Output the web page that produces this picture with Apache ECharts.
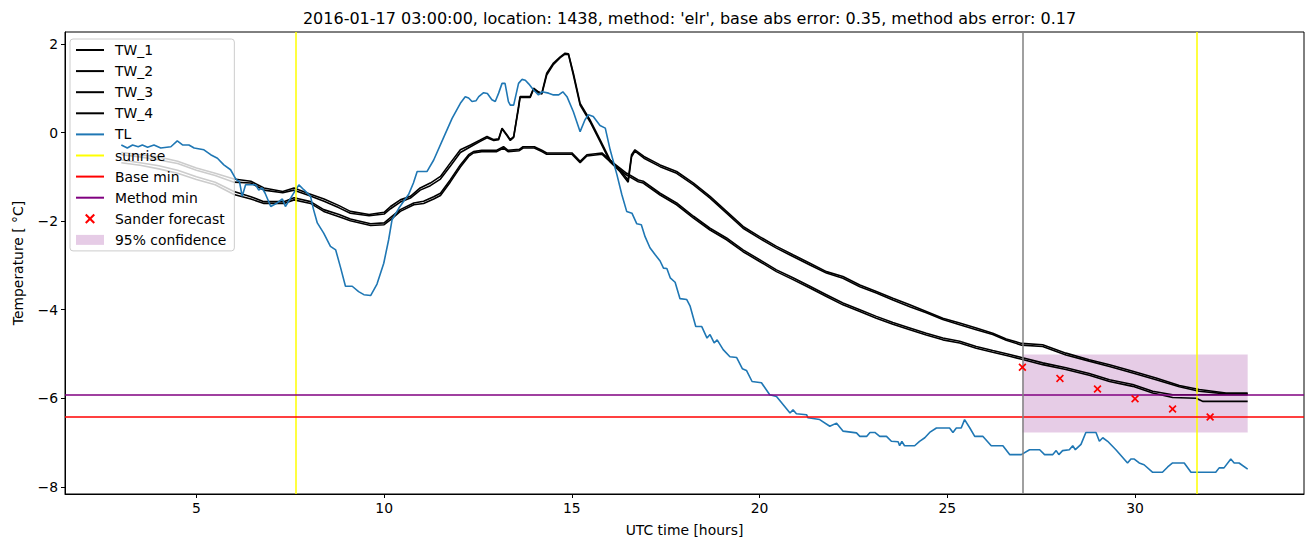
<!DOCTYPE html>
<html>
<head>
<meta charset="utf-8">
<script src="https://cdn.jsdelivr.net/npm/echarts@6/dist/echarts.min.js"></script>
<style>html,body{margin:0;padding:0;background:#fff}#main{width:1313px;height:547px}</style>
</head>
<body>
<div id="main"></div>
<script>
// ---------- data ----------
const titleText = "2016-01-17 03:00:00, location: 1438, method: 'elr', base abs error: 0.35, method abs error: 0.17";
const xTicks = [5, 10, 15, 20, 25, 30];
const yTicks = [-8, -6, -4, -2, 0, 2];

const sunriseHours = [7.64, 31.64];
const forecastHour = 27.0;
const baseMin = -6.41;
const methodMin = -5.92;
const confHours = [27.0, 33.0];
const confBounds = [-6.77, -5.01];

const sanderHours = [27, 28, 29, 30, 31, 32];
const sanderValues = [-5.30, -5.55, -5.79, -6.01, -6.24, -6.42];

const twAHours = [3.0,3.5,4.0,4.5,5.0,5.5,6.0,6.45,6.8,7.3,
  7.6,8.0,8.4,8.8,9.1,9.6,10.0,10.17,10.43,10.7,
  10.96,11.23,11.5,11.76,12.03,12.3,12.56,12.74,12.92,13.05,
  13.14,13.27,13.36,13.45,13.58,13.62,13.89,13.98,14.11,14.2,
  14.33,14.51,14.69,14.82,14.91,15.04,15.22,15.48,15.75,16.02,
  16.28,16.5,16.59,16.68,16.92,17.35,17.79,18.24,18.68,19.12,
  19.56,20.0,20.45,20.89,21.34,21.78,22.22,22.67,23.11,23.55,
  24.0,24.44,24.88,25.33,25.77,26.21,26.57,26.98,27.54,28.16,
  28.78,29.32,29.94,30.56,31.18,31.71,32.42,33.0];
const tw1Values = [-0.45,-0.50,-0.55,-0.65,-0.80,-0.92,-1.05,-1.10,-1.25,-1.33,
  -1.25,-1.38,-1.50,-1.65,-1.78,-1.85,-1.80,-1.67,-1.52,-1.44,
  -1.25,-1.14,-0.99,-0.69,-0.39,-0.28,-0.17,-0.09,-0.16,-0.14,
  0.10,-0.05,-0.16,-0.09,0.59,0.81,0.81,1.00,0.92,0.89,
  1.34,1.57,1.71,1.79,1.78,1.34,0.66,0.29,-0.16,-0.62,
  -0.84,-1.07,-0.50,-0.39,-0.54,-0.73,-0.88,-1.14,-1.44,-1.78,
  -2.12,-2.35,-2.57,-2.76,-2.95,-3.14,-3.25,-3.44,-3.59,-3.74,
  -3.89,-4.04,-4.19,-4.30,-4.41,-4.53,-4.66,-4.76,-4.79,-4.98,
  -5.13,-5.24,-5.39,-5.54,-5.71,-5.80,-5.88,-5.88];
const tw2Values = [-0.50,-0.55,-0.62,-0.70,-0.85,-0.97,-1.12,-1.14,-1.30,-1.36,
  -1.30,-1.42,-1.55,-1.70,-1.82,-1.88,-1.84,-1.72,-1.57,-1.48,
  -1.30,-1.20,-1.05,-0.76,-0.45,-0.32,-0.20,-0.12,-0.18,-0.16,
  0.08,-0.07,-0.18,-0.11,0.55,0.79,0.79,0.98,0.90,0.87,
  1.30,1.54,1.69,1.77,1.76,1.30,0.62,0.25,-0.20,-0.66,
  -0.88,-1.12,-0.55,-0.42,-0.58,-0.77,-0.92,-1.18,-1.48,-1.82,
  -2.16,-2.39,-2.61,-2.80,-2.99,-3.17,-3.29,-3.48,-3.62,-3.78,
  -3.93,-4.07,-4.22,-4.34,-4.45,-4.56,-4.69,-4.80,-4.83,-5.02,
  -5.16,-5.28,-5.43,-5.58,-5.74,-5.84,-5.90,-5.90];

const twBHours = [3.0,3.5,4.0,4.5,5.0,5.5,6.0,6.45,6.8,7.33,
  7.6,8.04,8.39,8.8,9.1,9.64,10.0,10.2,10.43,10.79,
  11.05,11.32,11.5,11.76,12.03,12.25,12.38,12.6,13.0,13.18,
  13.3,13.6,13.7,14.0,14.2,14.33,15.0,15.22,15.4,15.8,
  16.11,16.46,16.77,16.9,17.35,17.79,18.24,18.68,19.12,19.56,
  20.0,20.45,20.89,21.34,21.78,22.22,22.67,23.11,23.55,24.0,
  24.44,24.88,25.33,25.77,26.21,26.66,26.98,27.54,28.16,28.78,
  29.32,29.94,30.47,31.0,31.63,31.81,33.0];
const tw3Values = [-0.62,-0.68,-0.75,-0.85,-1.00,-1.12,-1.33,-1.45,-1.56,-1.56,
  -1.47,-1.56,-1.74,-1.85,-1.95,-2.06,-2.04,-1.90,-1.74,-1.59,
  -1.55,-1.45,-1.37,-1.07,-0.73,-0.50,-0.43,-0.40,-0.40,-0.32,
  -0.40,-0.38,-0.32,-0.32,-0.40,-0.46,-0.46,-0.65,-0.50,-0.46,
  -0.69,-0.92,-1.07,-1.10,-1.37,-1.59,-1.89,-2.16,-2.38,-2.65,
  -2.87,-3.10,-3.28,-3.47,-3.66,-3.85,-4.00,-4.15,-4.29,-4.41,
  -4.53,-4.64,-4.71,-4.83,-4.92,-5.01,-5.08,-5.20,-5.31,-5.44,
  -5.58,-5.69,-5.84,-5.92,-5.92,-5.92,-5.92];
const tw4Values = [-0.68,-0.74,-0.82,-0.92,-1.06,-1.18,-1.40,-1.50,-1.60,-1.60,
  -1.52,-1.60,-1.78,-1.90,-1.99,-2.10,-2.08,-1.95,-1.78,-1.63,
  -1.60,-1.50,-1.42,-1.12,-0.78,-0.54,-0.46,-0.43,-0.43,-0.35,
  -0.43,-0.41,-0.35,-0.35,-0.43,-0.49,-0.49,-0.68,-0.53,-0.49,
  -0.73,-0.96,-1.11,-1.14,-1.41,-1.63,-1.93,-2.20,-2.42,-2.69,
  -2.91,-3.14,-3.32,-3.51,-3.70,-3.89,-4.04,-4.19,-4.33,-4.45,
  -4.57,-4.68,-4.75,-4.87,-4.96,-5.05,-5.12,-5.24,-5.35,-5.48,
  -5.62,-5.73,-5.88,-5.98,-6.00,-6.07,-6.07];

const tlPoints = [[3.0,-0.28],[3.16,-0.35],[3.3,-0.28],[3.45,-0.32],[3.56,-0.28],[3.7,-0.33],[3.87,-0.28],[4.05,-0.35],[4.32,-0.32],[4.49,-0.19],
  [4.63,-0.28],[4.8,-0.28],[4.94,-0.35],[5.2,-0.39],[5.38,-0.50],[5.56,-0.58],[5.73,-0.73],[5.91,-0.84],[6.05,-1.05],[6.15,-1.12],
  [6.22,-1.44],[6.31,-1.18],[6.58,-1.18],[6.66,-1.30],[6.75,-1.25],[6.83,-1.37],[6.98,-1.67],[7.15,-1.59],[7.29,-1.50],[7.37,-1.67],
  [7.51,-1.48],[7.64,-1.30],[7.73,-1.18],[7.86,-1.29],[8.04,-1.44],[8.12,-1.74],[8.22,-2.04],[8.39,-2.27],[8.57,-2.57],[8.71,-2.65],
  [8.84,-3.05],[8.97,-3.47],[9.15,-3.47],[9.32,-3.59],[9.46,-3.66],[9.64,-3.68],[9.81,-3.42],[9.99,-2.95],[10.12,-2.42],[10.21,-1.97],
  [10.39,-1.71],[10.52,-1.55],[10.65,-1.40],[10.78,-1.14],[10.88,-0.88],[11.14,-0.88],[11.32,-0.62],[11.58,-0.12],[11.81,0.32],[12.03,0.66],
  [12.16,0.81],[12.25,0.78],[12.34,0.70],[12.45,0.72],[12.52,0.81],[12.65,0.90],[12.75,0.88],[12.87,0.74],[12.96,0.70],[13.05,0.89],
  [13.14,1.11],[13.22,1.11],[13.31,0.70],[13.36,0.62],[13.45,0.62],[13.58,1.11],[13.67,1.20],[13.76,1.18],[13.85,1.10],[13.98,0.96],
  [14.11,0.85],[14.2,0.92],[14.38,0.89],[14.51,0.85],[14.65,0.85],[14.76,0.92],[14.87,0.81],[15.04,0.47],[15.22,0.02],[15.35,0.29],
  [15.44,0.40],[15.57,0.36],[15.75,0.16],[15.89,0.10],[16.02,-0.39],[16.2,-0.95],[16.33,-1.40],[16.46,-1.78],[16.6,-1.82],[16.73,-2.06],
  [16.85,-2.08],[16.95,-2.35],[17.08,-2.60],[17.22,-2.76],[17.35,-2.90],[17.44,-3.06],[17.53,-3.07],[17.62,-3.28],[17.75,-3.38],[17.88,-3.75],
  [18.06,-3.77],[18.15,-3.92],[18.3,-4.38],[18.46,-4.38],[18.6,-4.64],[18.68,-4.56],[18.79,-4.75],[18.87,-4.68],[19.03,-4.90],[19.21,-5.06],
  [19.39,-5.08],[19.54,-5.33],[19.65,-5.37],[19.8,-5.62],[20.05,-5.65],[20.27,-5.92],[20.45,-5.96],[20.81,-6.33],[20.89,-6.26],[20.98,-6.35],
  [21.25,-6.37],[21.29,-6.44],[21.6,-6.48],[21.87,-6.63],[22.05,-6.56],[22.22,-6.74],[22.58,-6.78],[22.67,-6.86],[22.85,-6.86],[22.94,-6.77],
  [23.07,-6.77],[23.2,-6.86],[23.38,-6.86],[23.51,-6.97],[23.69,-6.98],[23.73,-7.07],[23.79,-6.97],[23.86,-7.07],[24.13,-7.07],[24.26,-6.97],
  [24.4,-6.89],[24.53,-6.77],[24.71,-6.67],[25.06,-6.67],[25.15,-6.77],[25.24,-6.67],[25.37,-6.67],[25.46,-6.48],[25.6,-6.67],[25.73,-6.86],
  [25.95,-6.86],[26.17,-7.07],[26.48,-7.07],[26.66,-7.27],[26.97,-7.27],[27.19,-7.16],[27.46,-7.16],[27.59,-7.27],[27.81,-7.27],[27.9,-7.18],
  [27.97,-7.27],[28.07,-7.18],[28.25,-7.16],[28.34,-7.07],[28.41,-7.16],[28.56,-7.04],[28.69,-6.77],[28.96,-6.77],[29.05,-6.97],[29.14,-6.89],
  [29.27,-6.97],[29.49,-7.16],[29.8,-7.46],[29.89,-7.37],[29.98,-7.37],[30.11,-7.46],[30.24,-7.50],[30.47,-7.67],[30.73,-7.67],[30.87,-7.55],
  [31.0,-7.46],[31.31,-7.46],[31.49,-7.67],[32.15,-7.67],[32.24,-7.57],[32.37,-7.57],[32.55,-7.37],[32.64,-7.46],[32.77,-7.46],[33.0,-7.60]];

// ---------- chart ----------
const FONT = 'DejaVu Sans';
const zip = (xs, ys) => xs.map((x, i) => [x, ys[i]]);
const xMark = 'path://M1.5,0L5,3.5L8.5,0L10,1.5L6.5,5L10,8.5L8.5,10L5,6.5L1.5,10L0,8.5L3.5,5L0,1.5Z';
const lineIcon = 'path://M0,0L28,0L28,2L0,2Z';
const minus = v => (v < 0 ? '\u2212' + Math.abs(v) : String(v));

function twSeries(name, hours, values) {
  return { name, type: 'line', data: zip(hours, values), symbol: 'none', showSymbol: false,
    color: '#000', lineStyle: { color: '#000', width: 1.6 }, z: 3, silent: true };
}
function markOnly(name, color, markData, z) {
  return { name, type: 'line', data: [], symbol: 'none', color, lineStyle: { color, width: 1.5 }, z,
    markLine: { silent: true, symbol: ['none', 'none'], label: { show: false },
      lineStyle: { color, width: 1.5, type: 'solid' }, data: markData } };
}
const lineEntry = name => ({ name, icon: lineIcon });

const chart = echarts.init(document.getElementById('main'), null, { renderer: 'svg' });
chart.setOption({
  animation: false,
  backgroundColor: '#fff',
  textStyle: { fontFamily: FONT },
  title: { text: titleText, left: 684.5, textAlign: 'center', top: 5,
    textStyle: { fontFamily: FONT, fontSize: 16, fontWeight: 'normal', color: '#000' } },
  grid: { left: 65, right: 9, top: 32, bottom: 53, show: true, borderColor: '#000', borderWidth: 1 },
  xAxis: { type: 'value', min: 1.5, max: 34.5,
    name: 'UTC time [hours]', nameLocation: 'middle', nameGap: 29,
    nameTextStyle: { fontFamily: FONT, fontSize: 13.9, color: '#000' },
    axisLine: { show: true, onZero: false, lineStyle: { color: '#000', width: 1 } },
    axisTick: { show: true, length: 4, customValues: xTicks, lineStyle: { color: '#000' } },
    axisLabel: { customValues: xTicks, color: '#000', fontSize: 13.9, margin: 7, fontFamily: FONT },
    splitLine: { show: false } },
  yAxis: { type: 'value', min: -8.16, max: 2.27,
    name: 'Temperature [ \u00B0C]', nameLocation: 'middle', nameGap: 40, nameRotate: 90,
    nameTextStyle: { fontFamily: FONT, fontSize: 13.9, color: '#000' },
    axisLine: { show: true, onZero: false, lineStyle: { color: '#000', width: 1 } },
    axisTick: { show: true, length: 4, customValues: yTicks, lineStyle: { color: '#000' } },
    axisLabel: { customValues: yTicks, color: '#000', fontSize: 13.9, margin: 7, fontFamily: FONT, formatter: minus },
    splitLine: { show: false } },
  legend: {
    orient: 'vertical', left: 70, top: 39,
    data: ['TW_1', 'TW_2', 'TW_3', 'TW_4', 'TL', 'sunrise', 'Base min', 'Method min'].map(lineEntry)
      .concat(['Sander forecast', { name: '95% confidence', icon: 'rect' }]),
    itemWidth: 28, itemHeight: 10, itemGap: 7.1,
    padding: [4, 8, 4, 6],
    backgroundColor: 'rgba(255,255,255,0.8)', borderColor: '#cccccc', borderWidth: 1, borderRadius: 3,
    textStyle: { fontFamily: FONT, fontSize: 13.9, color: '#000', lineHeight: 14, padding: [0, 0, 0, 6] },
    selectedMode: false
  },
  series: [
    { name: '95% confidence', type: 'line', data: [], symbol: 'none', color: 'rgba(128,0,128,0.2)', z: 1,
      markArea: { silent: true, itemStyle: { color: 'rgba(128,0,128,0.2)' },
        data: [[{ xAxis: confHours[0], yAxis: confBounds[1] }, { xAxis: confHours[1], yAxis: confBounds[0] }]] } },
    twSeries('TW_1', twAHours, tw1Values),
    twSeries('TW_2', twAHours, tw2Values),
    twSeries('TW_3', twBHours, tw3Values),
    twSeries('TW_4', twBHours, tw4Values),
    { name: 'TL', type: 'line', data: tlPoints, symbol: 'none', showSymbol: false, color: '#1f77b4',
      lineStyle: { color: '#1f77b4', width: 1.6 }, z: 4, silent: true },
    markOnly('sunrise', '#ffff00', sunriseHours.map(h => ({ xAxis: h })), 5),
    markOnly('Base min', '#ff0000', [{ yAxis: baseMin }], 5),
    markOnly('Method min', '#800080', [{ yAxis: methodMin }], 5),
    markOnly('forecast time', '#808080', [{ xAxis: forecastHour }], 6),
    { name: 'Sander forecast', type: 'scatter', data: zip(sanderHours, sanderValues), symbol: xMark,
      symbolSize: 8, color: '#ff0000', itemStyle: { color: '#ff0000', opacity: 1 }, z: 7, silent: true }
  ]
});
</script>
</body>
</html>
